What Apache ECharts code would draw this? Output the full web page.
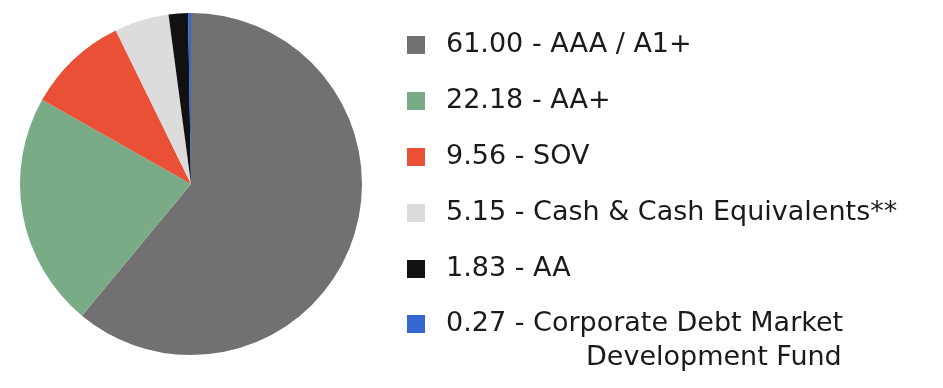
<!DOCTYPE html>
<html><head><meta charset="utf-8">
<script src="https://cdn.jsdelivr.net/npm/echarts@6/dist/echarts.min.js"></script>
<style>html,body{margin:0;padding:0;background:#fff}#c{width:943px;height:388px}</style>
</head><body><div id="c"></div>
<script>
const categories = ['AAA / A1+', 'AA+', 'SOV', 'Cash & Cash Equivalents**', 'AA', 'Corporate Debt Market Development Fund'];
const values = [61.00, 22.18, 9.56, 5.15, 1.83, 0.27];
const colors = ['#727071', '#7aab87', '#e95036', '#dcdcdc', '#111111', '#3368d0'];

const chart = echarts.init(document.getElementById('c'));
const FONT = '"DejaVu Sans", sans-serif';
const FS = 27;
const textStyle = {
  fontFamily: FONT, fontSize: FS, color: '#1a1a1a', lineHeight: 34, padding: [0, 0, 0, 16],
  rich: {
    a: {fontFamily: FONT, fontSize: FS, color: '#1a1a1a', lineHeight: 34},
    b: {fontFamily: FONT, fontSize: FS, color: '#1a1a1a', lineHeight: 34, padding: [0, 0, 0, 140]},
    e: {height: 34, lineHeight: 34}
  }
};
function fmt(name) {
  const i = categories.indexOf(name);
  const v = values[i].toFixed(2);
  if (name === 'Corporate Debt Market Development Fund') {
    return '{e|}\n{a|' + v + ' - Corporate Debt Market}\n{b|Development Fund}';
  }
  return v + ' - ' + name;
}
const common = {
  orient: 'vertical', left: 407, padding: 0,
  itemWidth: 18, itemHeight: 18, itemGap: 22, icon: 'rect',
  selectedMode: false, textStyle: textStyle, formatter: fmt, height: 380
};
chart.setOption({
  animation: false,
  color: colors,
  legend: [
    Object.assign({}, common, {top: 28, data: categories.slice(0, 5)}),
    Object.assign({}, common, {top: 273, data: categories.slice(5)})
  ],
  series: [{
    type: 'pie',
    center: [191, 184],
    radius: 171,
    startAngle: 90,
    clockwise: true,
    label: {show: false},
    labelLine: {show: false},
    emphasis: {disabled: true},
    itemStyle: {borderWidth: 0},
    data: categories.map((c, i) => ({name: c, value: values[i]}))
  }]
});
</script></body></html>
